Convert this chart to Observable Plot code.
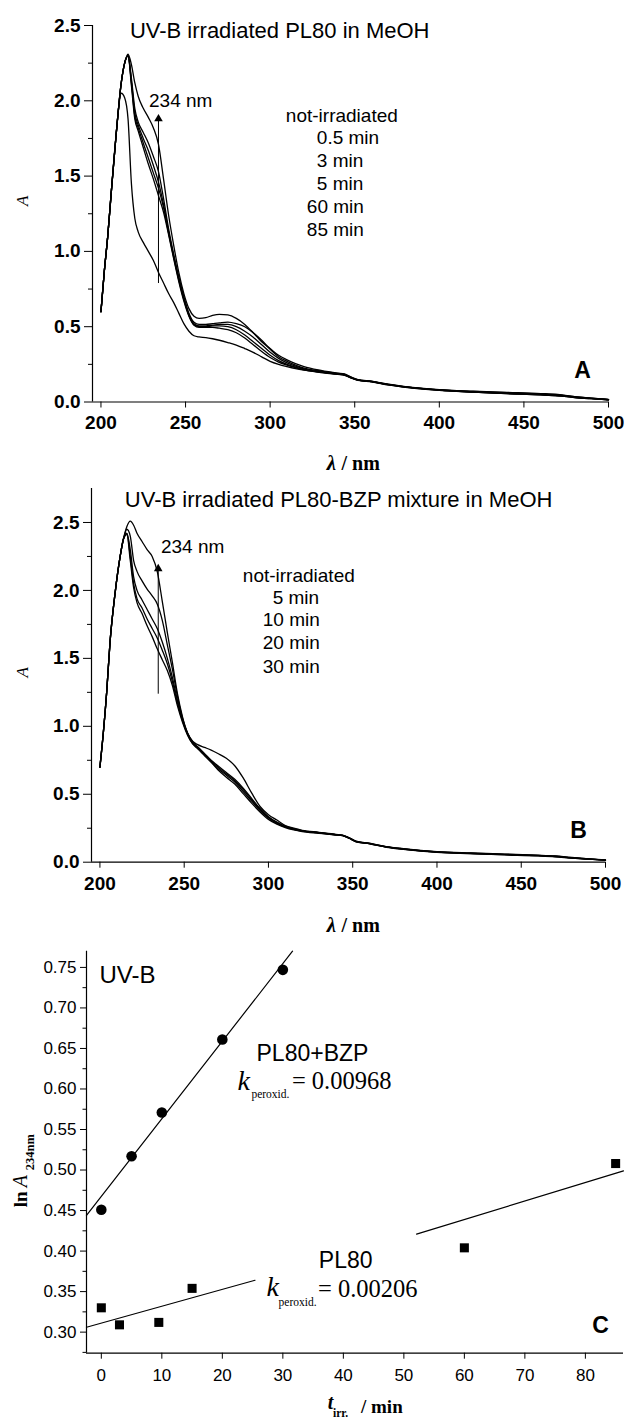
<!DOCTYPE html>
<html>
<head>
<meta charset="utf-8">
<script src="https://cdn.jsdelivr.net/npm/d3@7"></script>
<script src="https://cdn.jsdelivr.net/npm/@observablehq/plot@0.6"></script>
<style>
  html, body { margin: 0; padding: 0; background: #fff; }
  #chart { width: 625px; display: flex; flex-direction: column; }
  #chart svg { display: block; }
</style>
</head>
<body>
<div id="chart"></div>
<script>
// ---------- Data ----------
const wavelengths = [200,202,204,206,209,212,214,216,218,220,222,225,228,231,234,237,240,243,246,249,252,255,258,262,266,270,275,280,285,290,295,300,305,310,315,320,330,340,344,348,352,360,370,380,400,420,440,460,470,480,490,500];

// Panel A: PL80 in MeOH
const seriesA = ["not-irradiated","0.5 min","3 min","5 min","60 min","85 min"];
const A_notIrr = [0.60,0.87,1.10,1.38,1.78,2.05,2.02,1.88,1.45,1.22,1.13,1.06,1.00,0.94,0.86,0.79,0.72,0.66,0.59,0.52,0.47,0.44,0.432,0.428,0.42,0.41,0.395,0.378,0.355,0.33,0.30,0.27,0.25,0.235,0.222,0.212,0.198,0.185,0.178,0.16,0.145,0.135,0.115,0.10,0.079,0.066,0.056,0.047,0.041,0.03,0.022,0.015];
const A_05 = [0.60,0.87,1.10,1.38,1.78,2.12,2.25,2.30,2.10,1.88,1.80,1.69,1.58,1.48,1.37,1.26,1.11,0.95,0.80,0.67,0.57,0.51,0.495,0.495,0.495,0.49,0.48,0.46,0.425,0.38,0.335,0.295,0.265,0.245,0.228,0.213,0.196,0.183,0.177,0.158,0.144,0.134,0.113,0.098,0.078,0.065,0.055,0.047,0.041,0.03,0.022,0.015];
const A_3 = [0.60,0.87,1.10,1.38,1.78,2.12,2.25,2.30,2.12,1.90,1.82,1.72,1.62,1.52,1.42,1.29,1.12,0.96,0.81,0.68,0.575,0.515,0.50,0.50,0.505,0.505,0.50,0.48,0.445,0.40,0.355,0.31,0.275,0.25,0.232,0.216,0.198,0.185,0.179,0.16,0.145,0.135,0.114,0.099,0.079,0.066,0.057,0.049,0.043,0.031,0.023,0.015];
const A_5 = [0.60,0.87,1.10,1.38,1.78,2.12,2.25,2.30,2.13,1.92,1.84,1.75,1.67,1.57,1.46,1.31,1.13,0.97,0.82,0.69,0.58,0.52,0.505,0.505,0.51,0.515,0.515,0.50,0.47,0.43,0.38,0.33,0.29,0.26,0.238,0.22,0.20,0.187,0.181,0.161,0.146,0.136,0.115,0.10,0.08,0.068,0.059,0.051,0.045,0.033,0.024,0.016];
const A_60 = [0.60,0.87,1.10,1.38,1.78,2.12,2.25,2.30,2.15,1.95,1.86,1.79,1.72,1.63,1.53,1.35,1.15,0.98,0.83,0.70,0.59,0.53,0.515,0.515,0.52,0.525,0.53,0.52,0.50,0.46,0.41,0.35,0.30,0.27,0.245,0.225,0.205,0.19,0.184,0.163,0.147,0.137,0.117,0.101,0.081,0.07,0.062,0.054,0.048,0.035,0.025,0.016];
const A_85 = [0.60,0.87,1.10,1.38,1.78,2.12,2.25,2.31,2.24,2.12,2.03,1.95,1.89,1.82,1.71,1.48,1.24,1.04,0.86,0.72,0.62,0.57,0.555,0.56,0.575,0.582,0.578,0.555,0.515,0.46,0.40,0.355,0.31,0.28,0.255,0.235,0.21,0.192,0.186,0.165,0.148,0.138,0.118,0.102,0.082,0.072,0.064,0.056,0.05,0.036,0.026,0.017];

// Panel B: PL80-BZP mixture in MeOH
const seriesB = ["not-irradiated","5 min","10 min","20 min","30 min"];
const B_notIrr = [0.70,0.95,1.25,1.62,1.98,2.25,2.38,2.41,2.22,2.02,1.91,1.83,1.74,1.66,1.57,1.49,1.41,1.30,1.15,1.03,0.935,0.87,0.835,0.785,0.735,0.68,0.625,0.575,0.505,0.435,0.37,0.315,0.28,0.255,0.238,0.226,0.213,0.20,0.195,0.175,0.15,0.135,0.11,0.095,0.073,0.063,0.054,0.046,0.04,0.03,0.022,0.015];
const B_5 = [0.70,0.95,1.25,1.62,1.98,2.25,2.38,2.42,2.25,2.05,1.94,1.87,1.79,1.72,1.65,1.56,1.46,1.33,1.17,1.04,0.94,0.875,0.84,0.79,0.74,0.69,0.64,0.59,0.52,0.45,0.38,0.325,0.285,0.26,0.241,0.228,0.215,0.201,0.196,0.176,0.151,0.136,0.111,0.096,0.074,0.064,0.056,0.048,0.042,0.031,0.022,0.015];
const B_10 = [0.70,0.95,1.25,1.62,1.98,2.25,2.38,2.42,2.30,2.10,2.00,1.93,1.86,1.79,1.72,1.62,1.50,1.36,1.19,1.05,0.945,0.88,0.845,0.795,0.745,0.70,0.65,0.60,0.535,0.46,0.39,0.33,0.29,0.262,0.243,0.23,0.216,0.202,0.197,0.177,0.152,0.137,0.112,0.097,0.075,0.065,0.057,0.049,0.043,0.032,0.023,0.016];
const B_20 = [0.70,0.95,1.25,1.62,1.98,2.25,2.38,2.45,2.40,2.22,2.14,2.07,2.01,1.96,1.90,1.78,1.60,1.42,1.22,1.06,0.95,0.885,0.85,0.80,0.75,0.71,0.66,0.61,0.545,0.47,0.395,0.335,0.295,0.265,0.245,0.232,0.218,0.203,0.198,0.178,0.153,0.138,0.113,0.098,0.076,0.066,0.058,0.05,0.044,0.033,0.024,0.016];
const B_30 = [0.70,0.95,1.25,1.62,1.98,2.25,2.38,2.47,2.51,2.48,2.42,2.36,2.30,2.25,2.14,1.92,1.69,1.47,1.24,1.07,0.95,0.89,0.865,0.845,0.825,0.80,0.765,0.71,0.62,0.51,0.41,0.35,0.31,0.27,0.25,0.235,0.22,0.205,0.20,0.18,0.155,0.14,0.115,0.10,0.078,0.068,0.06,0.052,0.046,0.035,0.025,0.017];

// Panel C: ln A(234 nm) vs irradiation time
const bzpTime = [0,5,10,20,30];
const bzpLnA = [0.451,0.517,0.571,0.661,0.747];
const pl80Time = [0,3,9.5,15,60,85];
const pl80LnA = [0.330,0.309,0.312,0.354,0.404,0.508];
// fitted lines as drawn (end points)
const bzpFitTime = [-2.45,31.6];
const bzpFitLnA = [0.444,0.770];
const pl80FitSeg = [1,1,2,2];
const pl80FitTime = [-2.45,25.4,52.1,86.3];
const pl80FitLnA = [0.306,0.364,0.421,0.499];

// Tick values
const xTicksAB = [200,250,300,350,400,450,500];
const yTicksA = [0,0.5,1.0,1.5,2.0,2.5];
const yMinorA = [0.25,0.75,1.25,1.75,2.25];
const yTicksB = [0,0.5,1.0,1.5,2.0,2.5];
const yMinorB = [0.25,0.75,1.25,1.75,2.25];
const xTicksC = [0,10,20,30,40,50,60,70,80];
const yTicksC = [0.30,0.35,0.40,0.45,0.50,0.55,0.60,0.65,0.70,0.75];
const yMinorC = [0.275,0.325,0.375,0.425,0.475,0.525,0.575,0.625,0.675,0.725];

// ---------- Build tables ----------
function longTable(names, arrays) {
  const rows = [];
  names.forEach((n, i) => arrays[i].forEach((v, j) => rows.push({series: n, wl: wavelengths[j], A: v})));
  return rows;
}
const dataA = longTable(seriesA, [A_notIrr, A_05, A_3, A_5, A_60, A_85]);
const dataB = longTable(seriesB, [B_notIrr, B_5, B_10, B_20, B_30]);
const bzpPts = bzpTime.map((t, i) => ({t, v: bzpLnA[i]}));
const pl80Pts = pl80Time.map((t, i) => ({t, v: pl80LnA[i]}));
const bzpFit = bzpFitTime.map((t, i) => ({t, v: bzpFitLnA[i]}));
const pl80Fit = pl80FitTime.map((t, i) => ({t, v: pl80FitLnA[i], seg: pl80FitSeg[i]}));

// annotation anchors (data coordinates)
const titleA = {x: 217.1, y: 2.467, text: "UV-B irradiated PL80 in MeOH"};
const titleB = {x: 214.8, y: 2.667, text: "UV-B irradiated PL80-BZP mixture in MeOH"};
const legendA = [
  {x: 309.3, y: 1.90, text: "not-irradiated"},
  {x: 327.6, y: 1.756, text: "0.5 min"},
  {x: 327.6, y: 1.603, text: "3 min"},
  {x: 327.6, y: 1.45, text: "5 min"},
  {x: 321.7, y: 1.298, text: "60 min"},
  {x: 321.7, y: 1.145, text: "85 min"}
];
const legendB = [
  {x: 284.8, y: 2.107, text: "not-irradiated"},
  {x: 302.5, y: 1.945, text: "5 min"},
  {x: 296.6, y: 1.782, text: "10 min"},
  {x: 296.6, y: 1.613, text: "20 min"},
  {x: 296.6, y: 1.436, text: "30 min"}
];
const arrowA = {x: 234, y1: 0.79, y2: 1.88, tx: 228.4, ty: 2.0};
const arrowB = {x: 234.6, y1: 1.24, y2: 2.16, tx: 236.2, ty: 2.32};

const SANS = "'Liberation Sans', Arial, Helvetica, sans-serif";
const SERIF = "'Liberation Serif', 'Times New Roman', serif";
const baseStyle = {fontFamily: SANS, fontSize: "19px", color: "black", background: "white", overflow: "visible"};

function spectrumPanel(data, opts) {
  return Plot.plot({
    width: 625,
    height: opts.height,
    marginTop: opts.mt,
    marginBottom: opts.mb,
    marginLeft: opts.ml,
    marginRight: opts.mr,
    x: {domain: [195, 500]},
    y: {domain: opts.ydomain},
    style: baseStyle,
    marks: [
      Plot.ruleX([195], {stroke: "black", strokeWidth: 1.2}),
      Plot.ruleY([0], {stroke: "black", strokeWidth: 1.2}),
      Plot.axisX({ticks: xTicksAB, tickSize: 6, tickPadding: opts.xpad, fontSize: 19, fontWeight: "bold", fontFamily: SANS, label: null}),
      Plot.axisY({ticks: opts.yticks, tickSize: 8, tickPadding: 4, tickFormat: d3.format(".1f"), fontSize: 19, fontWeight: "bold", fontFamily: SANS, label: null}),
      Plot.axisY({ticks: opts.yminor, tickSize: 4, tickFormat: () => "", label: null}),
      Plot.line(data, {x: "wl", y: "A", z: "series", stroke: "black", strokeWidth: 1.3, curve: "monotone-x"}),
      Plot.link([opts.arrow], {x1: "x", x2: "x", y1: "y1", y2: "y2", stroke: "black", strokeWidth: 1}),
      Plot.dot([opts.arrow], {x: "x", y: "y2", symbol: "triangle", r: 3.2, fill: "black", stroke: "none"}),
      Plot.text([opts.arrow], {x: "tx", y: "ty", text: () => "234 nm", textAnchor: "start", fontSize: 19, fontFamily: SANS}),
      Plot.text([opts.title], {x: "x", y: "y", text: "text", textAnchor: "start", fontSize: 22, fontFamily: SANS}),
      Plot.text(opts.legend, {x: "x", y: "y", text: "text", textAnchor: "start", fontSize: 19, fontFamily: SANS}),
      Plot.text([opts.letter], {frameAnchor: "bottom-right", textAnchor: "middle", lineAnchor: "middle", dx: opts.letterDx, dy: opts.letterDy, text: d => d, fontSize: 23, fontWeight: "bold", fontFamily: SANS}),
      // axis titles
      Plot.text(["A"], {frameAnchor: "left", textAnchor: "middle", lineAnchor: "middle", dx: opts.ytdx, dy: opts.ytdy, rotate: -90, text: d => d, fontSize: 17, fontStyle: "italic", fontFamily: SERIF}),
      Plot.text(["λ"], {frameAnchor: "bottom", lineAnchor: "middle", dx: opts.xtdx, dy: opts.xtdy, text: d => d, textAnchor: "middle", fontSize: 21, fontStyle: "italic", fontWeight: "bold", fontFamily: SERIF}),
      Plot.text(["/ nm"], {frameAnchor: "bottom", lineAnchor: "middle", dx: opts.xtdx + 10, dy: opts.xtdy, text: d => d, textAnchor: "start", fontSize: 20, fontWeight: "bold", fontFamily: SERIF})
    ]
  });
}

const chart = document.getElementById("chart");

chart.append(spectrumPanel(dataA, {
  height: 470, mt: 25, mb: 68.5, ml: 92, mr: 17, ydomain: [0, 2.5],
  yticks: yTicksA, yminor: yMinorA, xpad: 7,
  arrow: arrowA, title: titleA, legend: legendA,
  letter: "A", letterDx: -26, letterDy: -31.5,
  ytdx: -70, ytdy: -13, xtdx: -19, xtdy: 61.5
}));

chart.append(spectrumPanel(dataB, {
  height: 470, mt: 18, mb: 78.3, ml: 91, mr: 20, ydomain: [0, 2.75],
  yticks: yTicksB, yminor: yMinorB, xpad: 8,
  arrow: arrowB, title: titleB, legend: legendB,
  letter: "B", letterDx: -27, letterDy: -31.7,
  ytdx: -69, ytdy: -3, xtdx: -17, xtdy: 63.3
}));

chart.append(Plot.plot({
  width: 625,
  height: 480,
  marginTop: 10.7,
  marginBottom: 67.3,
  marginLeft: 86,
  marginRight: 2,
  x: {domain: [-2.45, 86.3]},
  y: {domain: [0.274, 0.77]},
  style: baseStyle,
  marks: [
    Plot.ruleX([-2.45], {stroke: "black", strokeWidth: 1.2}),
    Plot.ruleY([0.274], {stroke: "black", strokeWidth: 1.2}),
    Plot.axisX({ticks: xTicksC, tickSize: 6, tickPadding: 10, fontSize: 17, fontFamily: SANS, label: null}),
    Plot.axisY({ticks: yTicksC, tickSize: 6, tickPadding: 4, tickFormat: d3.format(".2f"), fontSize: 17, fontFamily: SANS, label: null}),
    Plot.axisY({ticks: yMinorC, tickSize: 3.5, tickFormat: () => "", label: null}),
    Plot.line(bzpFit, {x: "t", y: "v", stroke: "black", strokeWidth: 1.2}),
    Plot.line(pl80Fit, {x: "t", y: "v", z: "seg", stroke: "black", strokeWidth: 1.2}),
    Plot.dot(bzpPts, {x: "t", y: "v", r: 5.3, fill: "black", stroke: "none"}),
    Plot.dot(pl80Pts, {x: "t", y: "v", symbol: "square", r: 5.1, fill: "black", stroke: "none"}),
    Plot.text([{t: -0.3, v: 0.740}], {x: "t", y: "v", text: () => "UV-B", textAnchor: "start", fontSize: 24, fontFamily: SANS}),
    Plot.text([{t: 25.65, v: 0.644}], {x: "t", y: "v", text: () => "PL80+BZP", textAnchor: "start", fontSize: 23, fontFamily: SANS}),
    Plot.text([{t: 22.5, v: 0.610}], {x: "t", y: "v", text: () => "k", textAnchor: "start", fontSize: 28, fontStyle: "italic", fontFamily: SERIF}),
    Plot.text([{t: 24.8, v: 0.594}], {x: "t", y: "v", text: () => "peroxid.", textAnchor: "start", fontSize: 11.5, fontFamily: SERIF}),
    Plot.text([{t: 31.5, v: 0.6095}], {x: "t", y: "v", text: () => "= 0.00968", textAnchor: "start", fontSize: 24.5, fontFamily: SERIF}),
    Plot.text([{t: 35.95, v: 0.3883}], {x: "t", y: "v", text: () => "PL80", textAnchor: "start", fontSize: 23, fontFamily: SANS}),
    Plot.text([{t: 27.3, v: 0.3553}], {x: "t", y: "v", text: () => "k", textAnchor: "start", fontSize: 28, fontStyle: "italic", fontFamily: SERIF}),
    Plot.text([{t: 29.3, v: 0.3368}], {x: "t", y: "v", text: () => "peroxid.", textAnchor: "start", fontSize: 11.5, fontFamily: SERIF}),
    Plot.text([{t: 35.8, v: 0.3533}], {x: "t", y: "v", text: () => "= 0.00206", textAnchor: "start", fontSize: 24.5, fontFamily: SERIF}),
    Plot.text(["C"], {frameAnchor: "bottom-right", textAnchor: "middle", lineAnchor: "middle", dx: -23, dy: -27.7, text: d => d, fontSize: 23, fontWeight: "bold", fontFamily: SANS}),
    // axis titles
    Plot.text(["ln"], {frameAnchor: "left", dx: -66, dy: 55, rotate: -90, textAnchor: "start", lineAnchor: "middle", text: d => d, fontSize: 19, fontWeight: "bold", fontFamily: SERIF}),
    Plot.text(["A"], {frameAnchor: "left", dx: -66, dy: 35, rotate: -90, textAnchor: "start", lineAnchor: "middle", text: d => d, fontSize: 20, fontStyle: "italic", fontFamily: SERIF}),
    Plot.text(["234nm"], {frameAnchor: "left", dx: -57, dy: 18, rotate: -90, textAnchor: "start", lineAnchor: "middle", text: d => d, fontSize: 12.5, fontWeight: "bold", fontFamily: SERIF}),
    Plot.text(["t"], {frameAnchor: "bottom", lineAnchor: "middle", dx: -24.5, dy: 49.5, textAnchor: "middle", text: d => d, fontSize: 20, fontStyle: "italic", fontWeight: "bold", fontFamily: SERIF}),
    Plot.text(["irr."], {frameAnchor: "bottom", lineAnchor: "middle", dx: -22, dy: 60.5, textAnchor: "start", text: d => d, fontSize: 11.5, fontWeight: "bold", fontFamily: SERIF}),
    Plot.text(["/ min"], {frameAnchor: "bottom", lineAnchor: "middle", dx: 6, dy: 54, textAnchor: "start", text: d => d, fontSize: 19, fontWeight: "bold", fontFamily: SERIF})
  ]
}));
</script>
</body>
</html>
